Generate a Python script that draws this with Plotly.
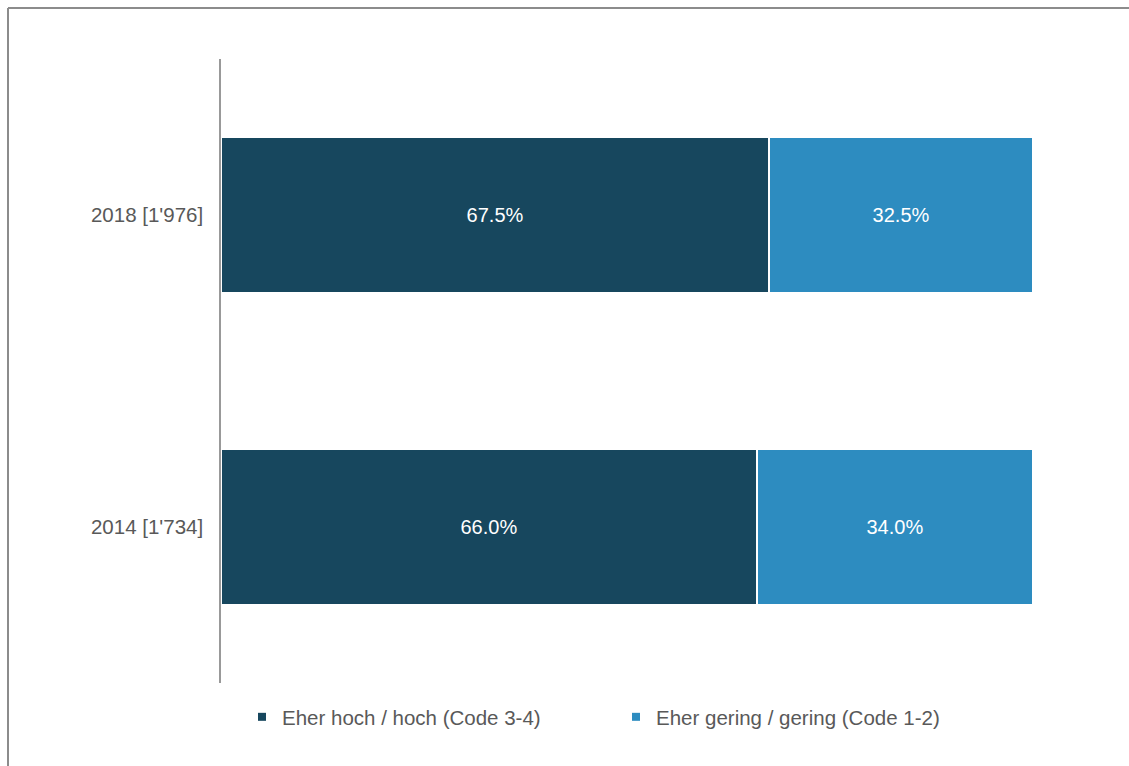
import plotly.graph_objects as go

categories = ["2014 [1'734]", "2018 [1'976]"]
series_names = ["Eher hoch / hoch (Code 3-4)", "Eher gering / gering (Code 1-2)"]
values_high = [66.0, 67.5]
values_low = [34.0, 32.5]
colors = ["#17475E", "#2D8CC0"]

W, H = 1129, 766
L, R, T, B = 221, 96, 59, 83
pw, ph = W - L - R, H - T - B

def px_x(p):
    return (p - L) / pw

def px_y(p):
    return (H - B - p) / ph

fig = go.Figure()
for name, vals, col in zip(series_names, [values_high, values_low], colors):
    fig.add_trace(go.Bar(
        y=categories, x=vals, orientation="h", name=name,
        marker=dict(color=col, line=dict(color="white", width=2)),
        width=0.5, showlegend=False,
        texttemplate="%{x:.1f}%", textposition="inside",
        insidetextanchor="middle",
        textfont=dict(color="white", size=20, family="Liberation Sans, Arial, sans-serif"),
        hoverinfo="skip",
    ))
    fig.add_trace(go.Scatter(
        x=[None], y=[None], mode="markers", name=name,
        marker=dict(symbol="square", size=8, color=col),
        showlegend=True,
    ))

frame_col = "#8c8c8c"
fig.add_shape(type="line", xref="paper", yref="paper",
              x0=px_x(8), x1=px_x(8), y0=px_y(8), y1=px_y(H + 50),
              line=dict(color=frame_col, width=2))
fig.add_shape(type="line", xref="paper", yref="paper",
              x0=px_x(8), x1=px_x(W + 50), y0=px_y(8), y1=px_y(8),
              line=dict(color=frame_col, width=2))

fig.update_layout(
    width=W, height=H,
    margin=dict(l=L, r=R, t=T, b=B, pad=0),
    paper_bgcolor="white", plot_bgcolor="white",
    barmode="stack",
    font=dict(family="Liberation Sans, Arial, sans-serif", size=20, color="#595959"),
    xaxis=dict(visible=False, range=[0, 100], fixedrange=True),
    yaxis=dict(range=[-0.5, 1.5], showline=True, linecolor="#999999", linewidth=1.5,
               showgrid=False, zeroline=False, ticks="", ticklabelstandoff=12,
               tickfont=dict(size=20.5, color="#595959"), fixedrange=True),
    legend=dict(orientation="h", x=px_x(242), xanchor="left",
                y=px_y(717), yanchor="middle", traceorder="normal",
                entrywidth=329, entrywidthmode="pixels",
                font=dict(size=20.5, color="#595959"),
                bgcolor="rgba(0,0,0,0)", borderwidth=0),
    showlegend=True,
)

fig.write_html("out.html")
